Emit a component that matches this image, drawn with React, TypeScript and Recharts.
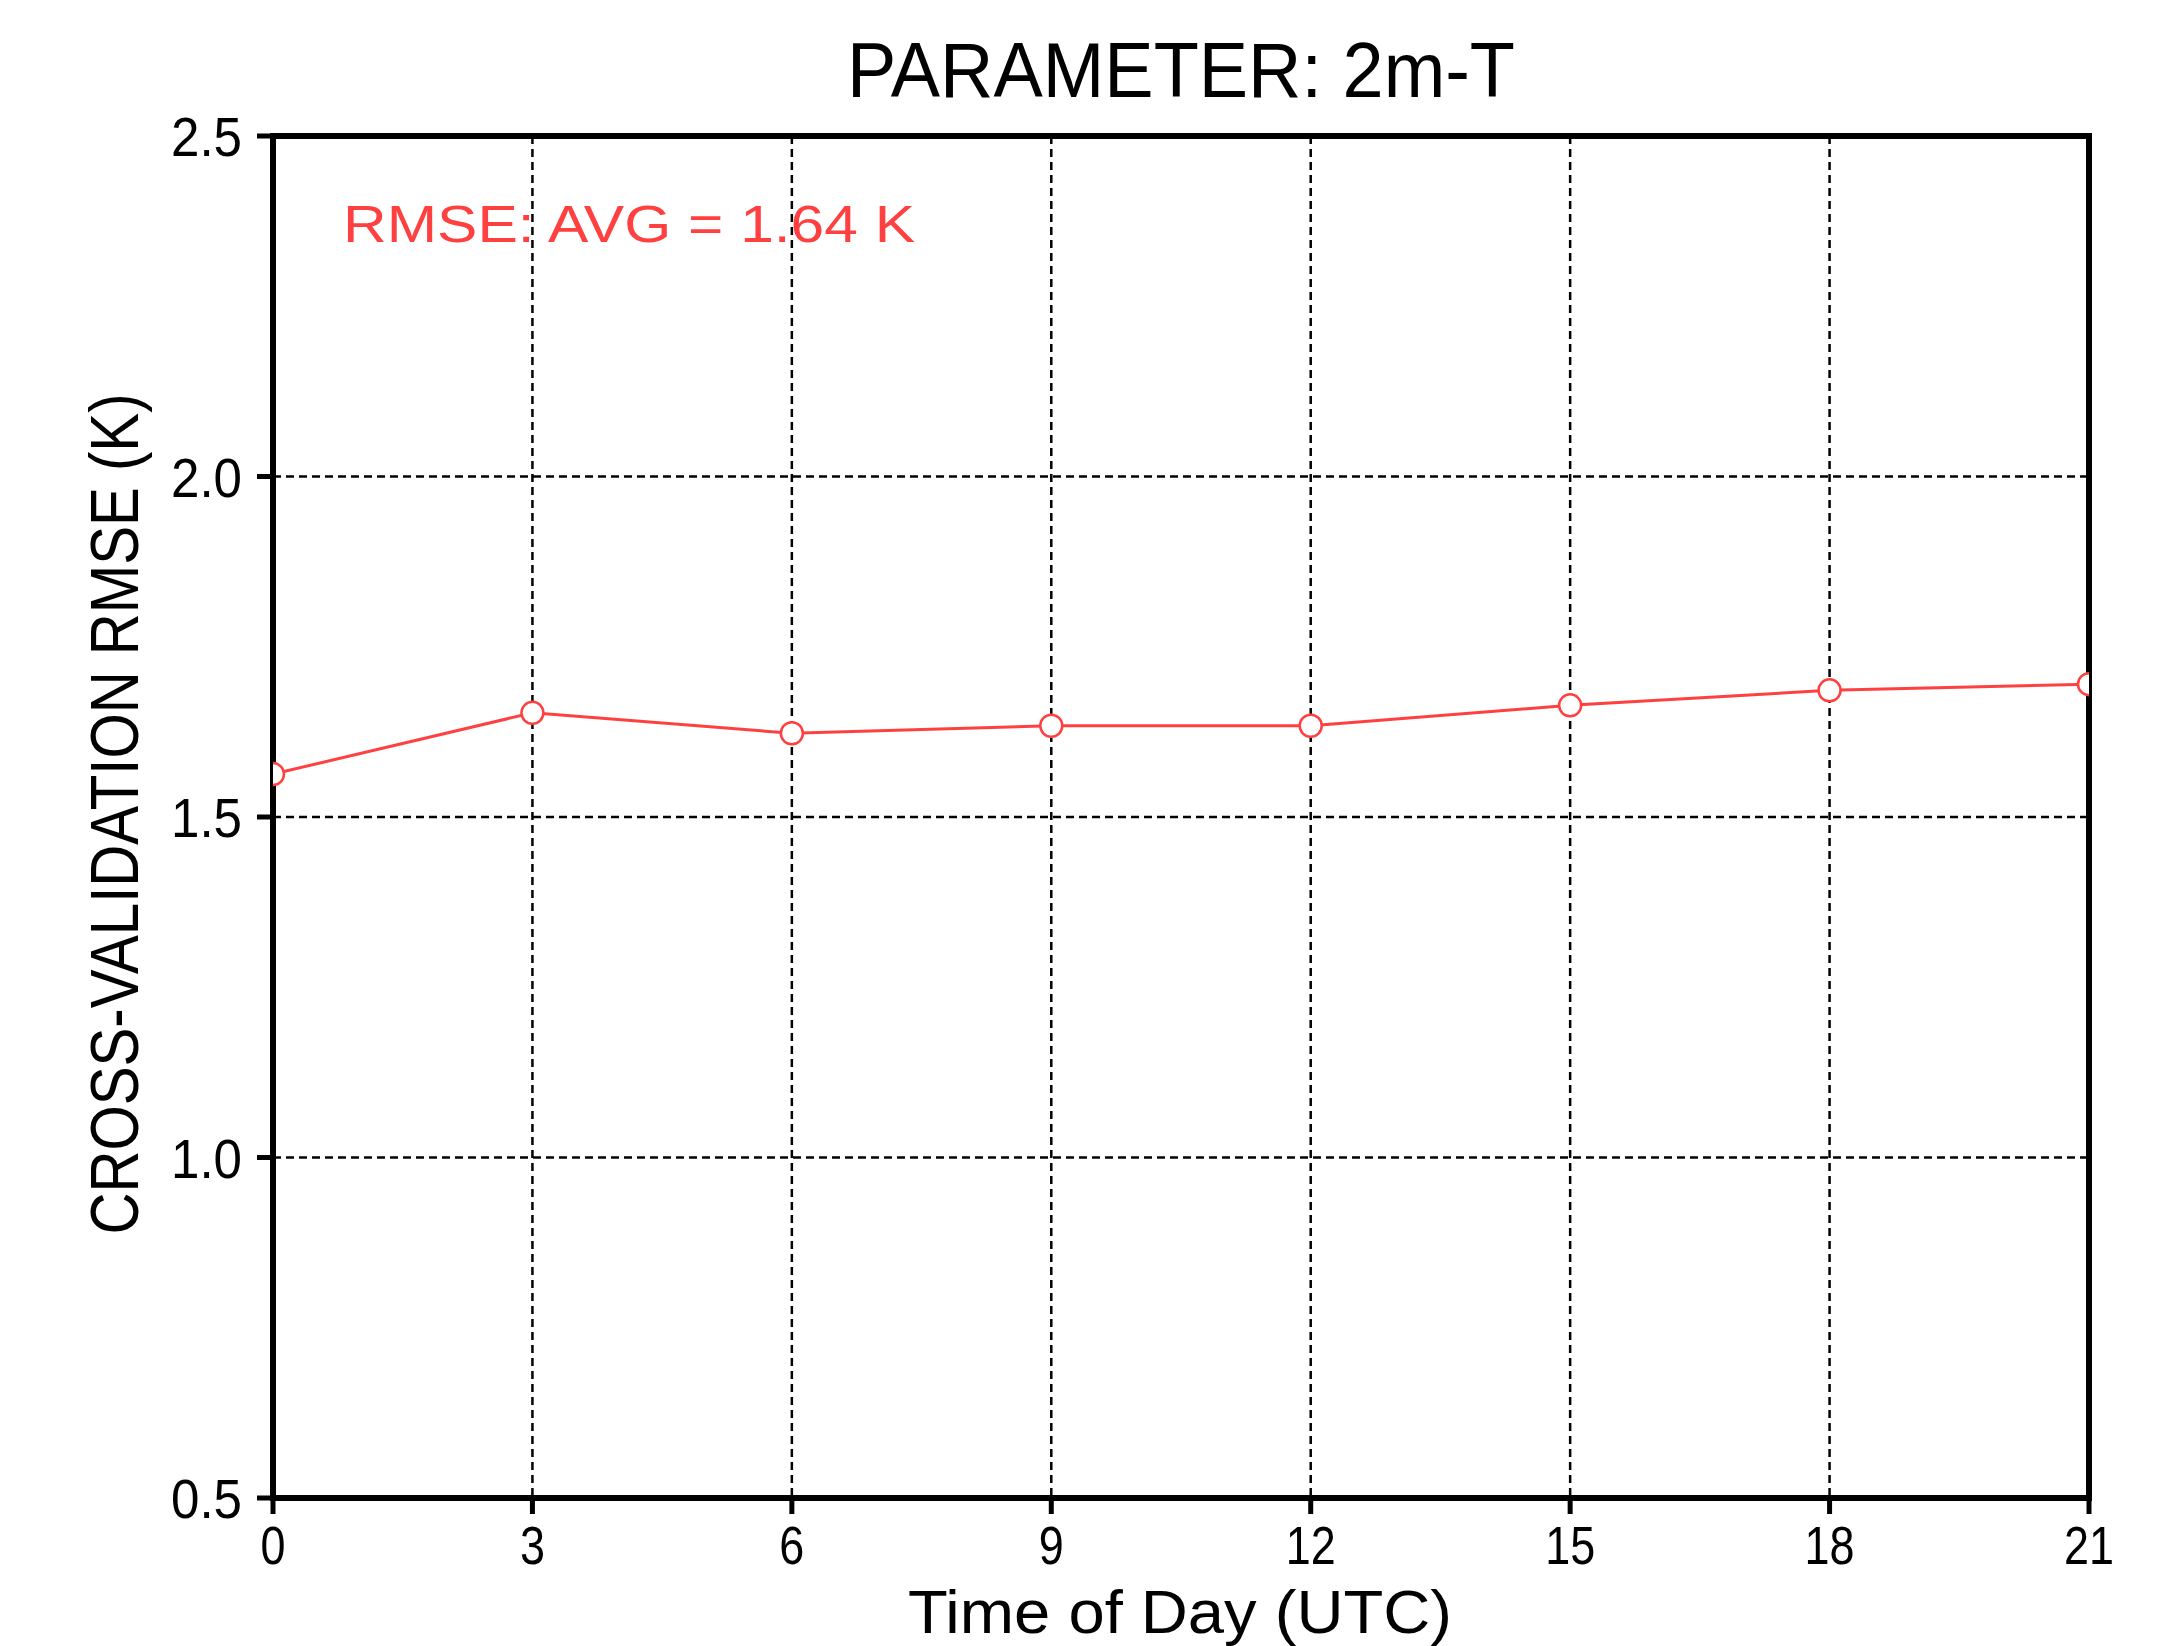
import React from 'react';
import {
  LineChart,
  Line,
  XAxis,
  YAxis,
  CartesianGrid,
  ReferenceArea,
} from 'recharts';

// hours of day (UTC) and cross-validation RMSE (K)
const hours = [0, 3, 6, 9, 12, 15, 18, 21];
const rmse = [1.563, 1.653, 1.623, 1.634, 1.634, 1.664, 1.686, 1.695];
const xTicks = [0, 3, 6, 9, 12, 15, 18, 21];
const yTicks = [0.5, 1.0, 1.5, 2.0, 2.5];

const title = 'PARAMETER:  2m-T';
const xLabel = 'Time of Day (UTC)';
const yLabel = 'CROSS-VALIDATION RMSE (K)';
const note = 'RMSE:  AVG  =  1.64  K';

const data = hours.map((h, i) => ({ hour: h, rmse: rmse[i] }));

const RED = '#ff4040';
const FONT = '"Liberation Sans", Arial, sans-serif';

// width of GrADS-like narrow digits
const labelWidth = (s: string) => {
  let w = 0;
  for (const c of s) w += c === '.' ? 21 : 25;
  return w;
};

const XTick = ({ x, y, payload }: any) => {
  const s = String(payload.value);
  return (
    <text
      x={x}
      y={y + 50}
      textAnchor="middle"
      fontFamily={FONT}
      fontSize={54}
      fill="#000"
      textLength={labelWidth(s)}
      lengthAdjust="spacingAndGlyphs"
    >
      {s}
    </text>
  );
};

const YTick = ({ x, y, payload }: any) => {
  const s = Number(payload.value).toFixed(1);
  return (
    <text
      x={x - 15}
      y={y + 20}
      textAnchor="end"
      fontFamily={FONT}
      fontSize={56}
      fill="#000"
      textLength={labelWidth(s)}
      lengthAdjust="spacingAndGlyphs"
    >
      {s}
    </text>
  );
};

export default function App() {
  return (
    <div style={{ position: 'absolute', left: 0, top: 0, background: '#fff' }}>
      <LineChart
        width={2168}
        height={1646}
        data={data}
        margin={{ top: 136, right: 79, bottom: 68, left: 153 }}
      >
        <CartesianGrid stroke="#000" strokeWidth={2.5} strokeDasharray="8 5" />
        <XAxis
          type="number"
          dataKey="hour"
          domain={[0, 21]}
          ticks={xTicks}
          allowDataOverflow
          height={80}
          axisLine={{ stroke: '#000', strokeWidth: 6 }}
          tickLine={{ stroke: '#000', strokeWidth: 5 }}
          tickSize={16}
          tickMargin={0}
          tick={<XTick />}
        />
        <YAxis
          type="number"
          domain={[0.5, 2.5]}
          ticks={yTicks}
          allowDataOverflow
          width={120}
          axisLine={{ stroke: '#000', strokeWidth: 6 }}
          tickLine={{ stroke: '#000', strokeWidth: 5 }}
          tickSize={16}
          tickMargin={0}
          tick={<YTick />}
        />
        <Line
          type="linear"
          dataKey="rmse"
          stroke={RED}
          strokeWidth={3}
          dot={{ r: 11, stroke: RED, strokeWidth: 2.5, fill: '#fff' }}
          isAnimationActive={false}
        />
        <ReferenceArea
          x1={0}
          x2={21}
          y1={0.5}
          y2={2.5}
          fill="none"
          fillOpacity={0}
          stroke="#000"
          strokeWidth={6}
          ifOverflow="visible"
        />
        <text
          x={1181}
          y={97}
          textAnchor="middle"
          fontFamily={FONT}
          fontSize={78}
          fill="#000"
          textLength={668}
          lengthAdjust="spacingAndGlyphs"
        >
          {title}
        </text>
        <text
          x={343}
          y={242}
          fontFamily={FONT}
          fontSize={52}
          fill={RED}
          textLength={572}
          lengthAdjust="spacingAndGlyphs"
        >
          {note}
        </text>
        <text
          x={1180}
          y={1633}
          textAnchor="middle"
          fontFamily={FONT}
          fontSize={62}
          fill="#000"
          textLength={544}
          lengthAdjust="spacingAndGlyphs"
        >
          {xLabel}
        </text>
        <text
          x={138}
          y={814}
          transform="rotate(-90, 138, 814)"
          textAnchor="middle"
          fontFamily={FONT}
          fontSize={68}
          fill="#000"
          textLength={841}
          lengthAdjust="spacingAndGlyphs"
        >
          {yLabel}
        </text>
      </LineChart>
    </div>
  );
}
